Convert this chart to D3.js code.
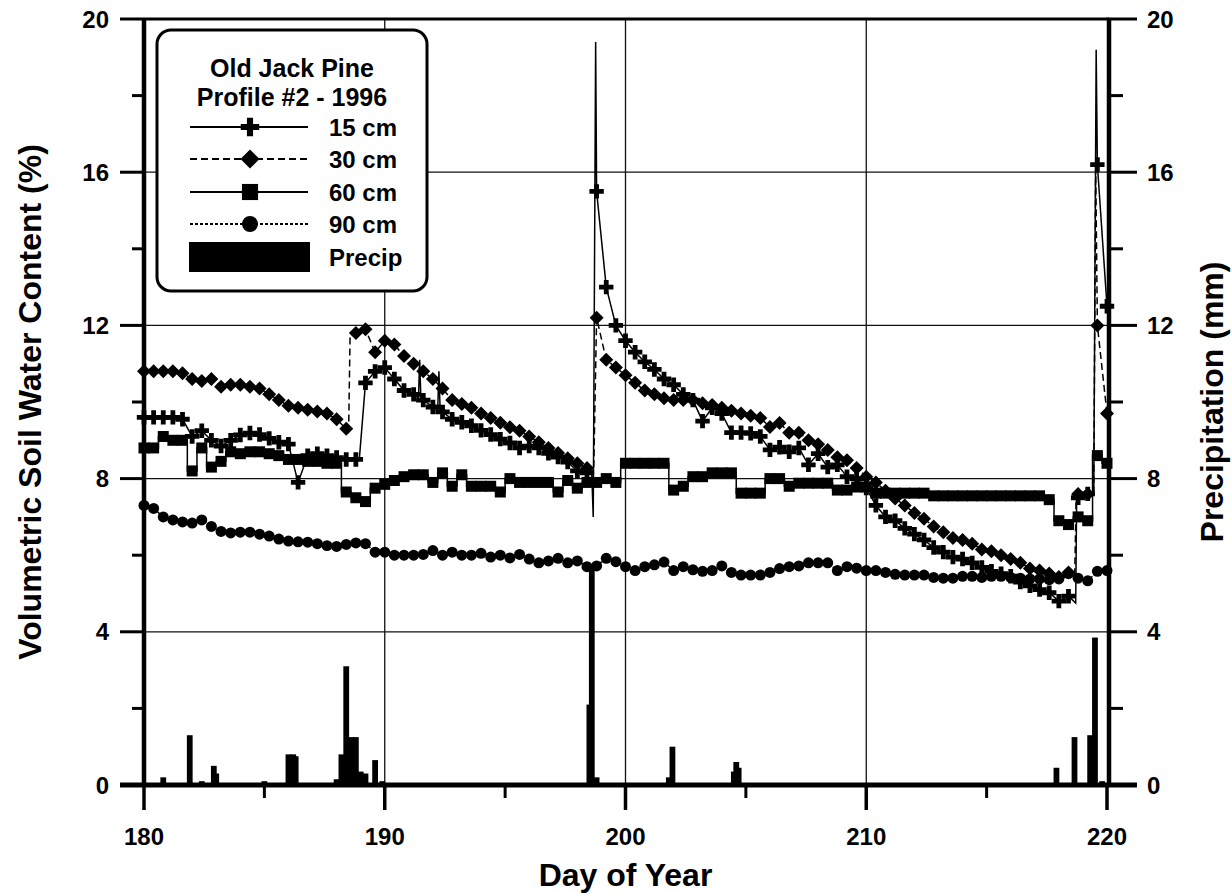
<!DOCTYPE html>
<html>
<head>
<meta charset="utf-8">
<script src="https://cdn.jsdelivr.net/npm/d3@7"></script>
<style>
  html, body { margin: 0; padding: 0; background: #fff; }
  svg { display: block; font-family: "Liberation Sans", Arial, Helvetica, sans-serif; font-weight: bold; }
</style>
</head>
<body>
<svg id="chart" width="1232" height="894"></svg>
<script>
// Soil moisture readings, every 0.4 day from day 180.0 to 220.0 (101 readings per depth)
const readingCount = 101;
const readingStep = 0.4;
const readingStart = 180;

const vwc15 = [9.6, 9.6, 9.6, 9.6, 9.55, 9.1, 9.25, 9.0, 8.85, 9.0,
  9.14, 9.19, 9.15, 9.05, 8.95, 8.9, 7.9, 8.6, 8.65, 8.6,
  8.55, 8.5, 8.5, 10.5, 10.8, 10.9, 10.6, 10.3, 10.2, 10.05,
  9.87, 9.74, 9.55, 9.47, 9.38, 9.26, 9.15, 9.03, 8.93, 8.8,
  8.85, 8.8, 8.66, 8.56, 8.43, 8.2, 8.15, 15.5, 13.0, 12.0,
  11.6, 11.3, 11.05, 10.85, 10.6, 10.45, 10.2, 10.05, 9.5, 9.85,
  9.7, 9.2, 9.2, 9.18, 9.1, 8.75, 8.82, 8.7, 8.8, 8.36,
  8.65, 8.3, 8.36, 8.05, 8.0, 7.75, 7.3, 7.0, 6.9, 6.7,
  6.55, 6.4, 6.2, 6.08, 5.95, 5.9, 5.8, 5.68, 5.58, 5.52,
  5.45, 5.3, 5.2, 5.1, 5.02, 4.8, 4.93, 7.5, 7.6, 16.2,
  12.5];

const vwc30 = [10.8, 10.8, 10.8, 10.8, 10.75, 10.6, 10.55, 10.6, 10.4, 10.45,
  10.45, 10.4, 10.35, 10.2, 10.05, 9.9, 9.85, 9.8, 9.75, 9.7,
  9.55, 9.3, 11.8, 11.9, 11.3, 11.6, 11.5, 11.2, 11.0, 10.8,
  10.6, 10.35, 10.05, 9.95, 9.85, 9.7, 9.58, 9.46, 9.34, 9.25,
  9.1, 8.95, 8.8, 8.67, 8.53, 8.4, 8.28, 12.2, 11.1, 10.9,
  10.7, 10.5, 10.3, 10.2, 10.1, 10.05, 10.05, 10.05, 9.97, 9.92,
  9.85, 9.77, 9.7, 9.64, 9.58, 9.35, 9.45, 9.2, 9.2, 9.0,
  8.9, 8.75, 8.56, 8.48, 8.28, 8.05, 7.9, 7.68, 7.48, 7.3,
  7.1, 6.95, 6.75, 6.6, 6.45, 6.4, 6.3, 6.15, 6.1, 6.0,
  5.9, 5.8, 5.65, 5.6, 5.52, 5.43, 5.55, 7.6, 7.6, 12.0,
  9.7];

const vwc60 = [8.8, 8.8, 9.1, 9.0, 9.0, 8.2, 8.8, 8.3, 8.45, 8.7,
  8.65, 8.7, 8.7, 8.65, 8.6, 8.5, 8.5, 8.45, 8.45, 8.4,
  8.4, 7.65, 7.5, 7.4, 7.75, 7.85, 7.95, 8.05, 8.1, 8.1,
  7.9, 8.15, 7.8, 8.1, 7.8, 7.8, 7.8, 7.65, 8.0, 7.9,
  7.9, 7.9, 7.9, 7.65, 7.95, 7.75, 7.9, 7.9, 8.0, 7.9,
  8.4, 8.4, 8.4, 8.4, 8.4, 7.7, 7.8, 8.05, 8.05, 8.15,
  8.15, 8.15, 7.62, 7.62, 7.62, 8.0, 8.0, 7.8, 7.88, 7.88,
  7.88, 7.88, 7.7, 7.7, 7.78, 7.78, 7.62, 7.62, 7.62, 7.62,
  7.62, 7.62, 7.55, 7.55, 7.55, 7.55, 7.55, 7.55, 7.55, 7.55,
  7.55, 7.55, 7.55, 7.55, 7.45, 6.9, 6.8, 7.0, 6.9, 8.6,
  8.4];

const vwc90 = [7.3, 7.22, 7.0, 6.92, 6.87, 6.84, 6.92, 6.75, 6.62, 6.58,
  6.6, 6.6, 6.55, 6.5, 6.42, 6.37, 6.35, 6.34, 6.3, 6.25,
  6.23, 6.28, 6.32, 6.3, 6.08, 6.08, 6.0, 6.0, 6.0, 6.02,
  6.12, 6.0, 6.08, 6.0, 6.0, 6.05, 5.95, 6.0, 5.93, 6.02,
  5.9, 5.8, 5.85, 5.92, 5.8, 5.85, 5.7, 5.72, 5.92, 5.83,
  5.7, 5.6, 5.7, 5.75, 5.82, 5.6, 5.7, 5.62, 5.58, 5.6,
  5.72, 5.55, 5.48, 5.48, 5.48, 5.55, 5.65, 5.7, 5.72, 5.8,
  5.8, 5.8, 5.6, 5.7, 5.66, 5.6, 5.6, 5.55, 5.5, 5.48,
  5.48, 5.48, 5.42, 5.4, 5.4, 5.45, 5.45, 5.42, 5.45, 5.45,
  5.42, 5.4, 5.38, 5.38, 5.36, 5.38, 5.52, 5.4, 5.33, 5.58,
  5.6];

// Short-lived excursions between readings (line only, no marker): [day, %]
const events15 = [[188.95, 8.55], [191.4, 10.1], [191.45, 11.1], [191.5, 10.1],
  [192.2, 9.8], [192.25, 10.8], [192.3, 9.8], [198.6, 8.1], [198.66, 7.0],
  [198.76, 19.4], [218.7, 4.75], [218.74, 7.5], [219.45, 7.6], [219.55, 19.2]];
const events30 = [[188.5, 9.25], [188.56, 11.75], [198.68, 8.2], [218.66, 5.5],
  [218.72, 7.6], [219.45, 7.6], [219.53, 16.2]];

// Precipitation (mm)
const precipDay = [180.8, 181.9, 182.4, 182.9, 183.0, 185.0, 186.0, 186.2, 186.3,
  188.0, 188.2, 188.4, 188.6, 188.8, 189.0, 189.2, 189.6, 189.9,
  198.5, 198.6, 198.8, 201.8, 201.95, 204.5, 204.6, 204.7,
  217.9, 218.65, 219.3, 219.5, 219.8];
const precipMm = [0.2, 1.3, 0.1, 0.5, 0.3, 0.1, 0.8, 0.8, 0.75,
  0.15, 0.8, 3.1, 1.25, 1.25, 0.35, 0.3, 0.65, 0.1,
  2.1, 5.7, 0.2, 0.2, 1.0, 0.35, 0.6, 0.45,
  0.45, 1.25, 1.3, 3.85, 0.1];

const xTicks = [180, 190, 200, 210, 220];
const xMinorTicks = [185, 195, 205, 215];
const yTicks = [0, 4, 8, 12, 16, 20];
const yMinorTicks = [2, 6, 10, 14, 18];
const gridX = [190, 200, 210];
const gridY = [4, 8, 12, 16];

const legendTitle = ["Old Jack Pine", "Profile #2 - 1996"];
const seriesNames = ["15 cm", "30 cm", "60 cm", "90 cm"];
const precipName = "Precip";

// ---- layout ----
const svg = d3.select("#chart");
const x = d3.scaleLinear().domain([180, 220]).range([144, 1107]);
const y = d3.scaleLinear().domain([0, 20]).range([785, 19]);
const yP = d3.scaleLinear().domain([0, 20]).range([785, 19]);

const readingDays = d3.range(readingCount).map(i => readingStart + i * readingStep);

// grid lines
const grid = svg.append("g").attr("stroke", "#111").attr("stroke-width", 1.3);
grid.selectAll("line.gx").data(gridX).join("line")
  .attr("x1", d => x(d)).attr("x2", d => x(d))
  .attr("y1", y(20)).attr("y2", y(0));
grid.selectAll("line.gy").data(gridY).join("line")
  .attr("x1", x(180)).attr("x2", x(220))
  .attr("y1", d => y(d)).attr("y2", d => y(d));

// precipitation bars
const halfBar = 0.12;
svg.append("g").selectAll("rect").data(precipDay).join("rect")
  .attr("x", d => x(d - halfBar))
  .attr("width", d => x(d + halfBar) - x(d - halfBar))
  .attr("y", (d, i) => yP(precipMm[i]))
  .attr("height", (d, i) => yP(0) - yP(precipMm[i]))
  .attr("fill", "#000");

// series definitions
const series = [
  { name: seriesNames[0], values: vwc15, events: events15, dash: null, curve: d3.curveLinear,
    symbol: d3.symbolCross, size: 115, legendSize: 190 },
  { name: seriesNames[1], values: vwc30, events: events30, dash: "7,4", curve: d3.curveLinear,
    symbol: "diamond", size: 7, legendSize: 9.5 },
  { name: seriesNames[2], values: vwc60, events: [], dash: null, curve: d3.curveStep,
    symbol: d3.symbolSquare, size: 121, legendSize: 260 },
  { name: seriesNames[3], values: vwc90, events: [], dash: "3,2", curve: d3.curveLinear,
    symbol: d3.symbolCircle, size: 95, legendSize: 200 }
];

function markerPath(s, big) {
  if (s.symbol === "diamond") {
    const r = big ? s.legendSize : s.size;
    return `M0,${-r}L${r},0L0,${r}L${-r},0Z`;
  }
  return d3.symbol(s.symbol, big ? s.legendSize : s.size)();
}

const line = d3.line().x(d => x(d[0])).y(d => y(d[1]));

series.forEach(s => {
  const pts = readingDays.map((d, i) => [d, s.values[i]]);
  const linePts = pts.concat(s.events).sort((a, b) => a[0] - b[0]);
  svg.append("path")
    .datum(linePts)
    .attr("fill", "none")
    .attr("stroke", "#000")
    .attr("stroke-width", 1.5)
    .attr("stroke-dasharray", s.dash)
    .attr("d", line.curve(s.curve));
  svg.append("g").selectAll("path").data(pts).join("path")
    .attr("transform", d => `translate(${x(d[0])},${y(d[1])})`)
    .attr("d", markerPath(s, false))
    .attr("fill", "#000");
});

// ---- axes frame ----
const frame = svg.append("g").attr("stroke", "#000").attr("fill", "none");
frame.append("line").attr("x1", x(180)).attr("x2", x(180)).attr("y1", y(20)).attr("y2", y(0) + 2)
  .attr("stroke-width", 4.5);
frame.append("line").attr("x1", x(220) + 2).attr("x2", x(220) + 2).attr("y1", y(20)).attr("y2", y(0) + 2)
  .attr("stroke-width", 4.5);
frame.append("line").attr("x1", x(180)).attr("x2", x(220) + 2).attr("y1", y(0)).attr("y2", y(0))
  .attr("stroke-width", 5);
frame.append("line").attr("x1", x(180)).attr("x2", x(220) + 2).attr("y1", y(20)).attr("y2", y(20))
  .attr("stroke-width", 3);

// left axis ticks
frame.selectAll("line.ly").data(yTicks).join("line").attr("class", "ly")
  .attr("x1", x(180) - 24).attr("x2", x(180)).attr("y1", d => y(d)).attr("y2", d => y(d))
  .attr("stroke-width", d => (d === 0 ? 5 : 3));
frame.selectAll("line.lym").data(yMinorTicks).join("line").attr("class", "lym")
  .attr("x1", x(180) - 12).attr("x2", x(180)).attr("y1", d => y(d)).attr("y2", d => y(d))
  .attr("stroke-width", 3);
// right axis ticks
frame.selectAll("line.ry").data(yTicks).join("line").attr("class", "ry")
  .attr("x1", x(220)).attr("x2", x(220) + 30).attr("y1", d => yP(d)).attr("y2", d => yP(d))
  .attr("stroke-width", d => (d === 0 ? 5 : 3));
frame.selectAll("line.rym").data(yMinorTicks).join("line").attr("class", "rym")
  .attr("x1", x(220)).attr("x2", x(220) + 16).attr("y1", d => yP(d)).attr("y2", d => yP(d))
  .attr("stroke-width", 3);
// bottom axis ticks
frame.selectAll("line.bx").data(xTicks).join("line").attr("class", "bx")
  .attr("x1", d => x(d)).attr("x2", d => x(d)).attr("y1", y(0)).attr("y2", y(0) + 25)
  .attr("stroke-width", 3.5);
frame.selectAll("line.bxm").data(xMinorTicks).join("line").attr("class", "bxm")
  .attr("x1", d => x(d)).attr("x2", d => x(d)).attr("y1", y(0)).attr("y2", y(0) + 13)
  .attr("stroke-width", 3);

// tick labels
const labels = svg.append("g").attr("fill", "#000").attr("font-size", 24);
labels.selectAll("text.ly").data(yTicks).join("text").attr("class", "ly")
  .attr("x", 109).attr("y", d => y(d)).attr("dy", "0.36em").attr("text-anchor", "end")
  .text(d => d);
labels.selectAll("text.ry").data(yTicks).join("text").attr("class", "ry")
  .attr("x", 1147).attr("y", d => yP(d)).attr("dy", "0.36em").attr("text-anchor", "start")
  .text(d => d);
labels.selectAll("text.bx").data(xTicks).join("text").attr("class", "bx")
  .attr("x", d => x(d)).attr("y", 845).attr("text-anchor", "middle")
  .text(d => d);

// axis titles
svg.append("text").attr("x", x(200)).attr("y", 886).attr("text-anchor", "middle")
  .attr("font-size", 32).text("Day of Year");
svg.append("text").attr("transform", `translate(41,${y(10)}) rotate(-90)`)
  .attr("text-anchor", "middle").attr("font-size", 32)
  .text("Volumetric Soil Water Content (%)");
svg.append("text").attr("transform", `translate(1223,${y(10)}) rotate(-90)`)
  .attr("text-anchor", "middle").attr("font-size", 32)
  .text("Precipitation (mm)");

// ---- legend ----
const lg = svg.append("g");
lg.append("rect").attr("x", 157).attr("y", 30).attr("width", 270).attr("height", 261)
  .attr("rx", 14).attr("ry", 14).attr("fill", "#fff").attr("stroke", "#000").attr("stroke-width", 3);
lg.selectAll("text.t").data(legendTitle).join("text").attr("class", "t")
  .attr("x", 292).attr("y", (d, i) => 77 + i * 29).attr("text-anchor", "middle")
  .attr("font-size", 25).text(d => d);

const rowY = [127, 159, 192, 224];
series.forEach((s, i) => {
  lg.append("line").attr("x1", 190).attr("x2", 308).attr("y1", rowY[i]).attr("y2", rowY[i])
    .attr("stroke", "#000").attr("stroke-width", 1.8).attr("stroke-dasharray", s.dash);
  lg.append("path").attr("transform", `translate(250,${rowY[i]})`)
    .attr("d", markerPath(s, true)).attr("fill", "#000");
  lg.append("text").attr("x", 329).attr("y", rowY[i]).attr("dy", "0.36em")
    .attr("font-size", 24).text(s.name);
});
lg.append("rect").attr("x", 189).attr("y", 242).attr("width", 121).attr("height", 30).attr("fill", "#000");
lg.append("text").attr("x", 329).attr("y", 257).attr("dy", "0.36em").attr("font-size", 24).text(precipName);
</script>
</body>
</html>
